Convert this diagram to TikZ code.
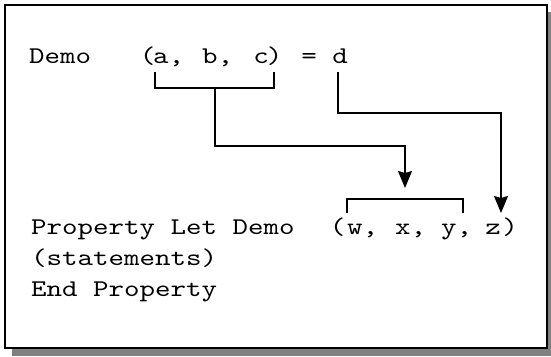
\documentclass[tikz,border=0pt]{standalone}
\usepackage{fontspec}
\newfontfamily\cour{lmmono10-regular.otf}[FakeStretch=1.23]
\usetikzlibrary{arrows.meta}
\definecolor{shadowgray}{HTML}{808080}
\begin{document}
\begin{tikzpicture}[x=1pt,y=-1pt,
  tok/.style={inner sep=0pt, anchor=base, font=\cour\fontsize{24}{28}\selectfont},
  ln/.style={line width=1.6pt},
  arr/.style={ln, -{Stealth[length=17pt,width=14pt,inset=2pt]}}]
\useasboundingbox (0,0) rectangle (551,356);
\fill[shadowgray] (12,12) rectangle (551,356);
\filldraw[fill=white, draw=black, line width=2pt] (5,5) rectangle (547,348);
% line 1
\node[tok, anchor=base west] (demo) at (29,63) {Demo};
\node[tok] (lp1) at (147.5,63) {(};
\node[tok, anchor=base west] (a) at (153,63) {a,};
\node[tok, anchor=base west] (b) at (202,63) {b,};
\node[tok] (c) at (261,63) {c};
\node[tok] (rp1) at (274.5,63) {)};
\node[tok] (eq) at (309,63) {=};
\node[tok] (d) at (340,63) {d};
% line 2
\node[tok, anchor=base west] (prop) at (31,234) {Property Let Demo};
\node[tok] (lp2) at (337.5,234) {(};
\node[tok, anchor=base west] (w) at (347,234) {w,};
\node[tok, anchor=base west] (x) at (395,234) {x,};
\node[tok, anchor=base west] (y) at (441,234) {y,};
\node[tok] (z) at (493,234) {z};
\node[tok] (rp2) at (510,234) {)};
% lines 3-4
\node[tok, anchor=base west] (stm) at (31,265) {(statements)};
\node[tok, anchor=base west] (endp) at (31,296) {End Property};
% connectors
\coordinate (ba) at (155,72);
\coordinate (bc) at (274,72);
\coordinate (bm) at (215,88);
\coordinate (t1) at (405,188);
\coordinate (dtop) at (338,72);
\coordinate (t2) at (501,213);
\coordinate (bw) at (347,213);
\coordinate (by) at (463,213);
\draw[ln] (ba) -- ++(0,16) -| (bc);
\draw[arr] (bm) -- (215,146) -| (t1);
\draw[arr] (dtop) -- (338,113) -| (t2);
\draw[ln] (bw) -- ++(0,-14) -| (by);
\end{tikzpicture}
\end{document}
